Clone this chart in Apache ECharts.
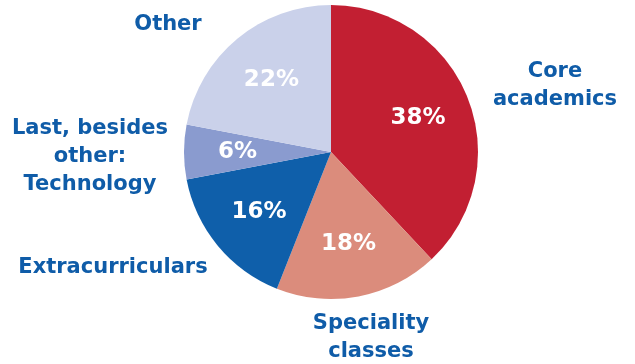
<!DOCTYPE html>
<html><head><meta charset="utf-8">
<script src="https://cdn.jsdelivr.net/npm/echarts@6/dist/echarts.min.js"></script>
<style>html,body{margin:0;padding:0;background:#fff}#c{width:635px;height:364px}</style>
</head><body><div id="c"></div>
<script>
const categories = ['Core\nacademics', 'Speciality\nclasses', 'Extracurriculars', 'Last, besides\nother:\nTechnology', 'Other'];
const values = [38, 18, 16, 6, 22];
const colors = ['#C21F32', '#DB8C7C', '#0F5FAA', '#8A9BCF', '#CAD1EA'];
// outer label anchor centres (px)
const labelPos = [[555, 86], [371, 338], [113, 268], [90, 157], [168, 25]];

const chart = echarts.init(document.getElementById('c'), null, {renderer: 'canvas'});
const data = categories.map((c, i) => ({name: c, value: values[i], itemStyle: {color: colors[i]}}));
const font = '"DejaVu Sans", sans-serif';
chart.setOption({
  animation: false,
  series: [
    {
      type: 'pie', center: [331, 152], radius: [0, 147], startAngle: 90, clockwise: true,
      data: data,
      itemStyle: {borderWidth: 0},
      label: {show: true, position: 'outside', formatter: '{b}', color: '#0F5CA8', fontFamily: font,
        fontWeight: 'bold', fontSize: 21, lineHeight: 28, align: 'center', overflow: 'none', width: 300},
      labelLine: {show: false},
      labelLayout: function (p) {
        const pos = labelPos[p.dataIndex];
        return {x: pos[0], y: pos[1], align: 'center', verticalAlign: 'middle'};
      },
      emphasis: {disabled: true}
    },
    {
      type: 'pie', center: [331, 152], radius: [34, 147], startAngle: 90, clockwise: true,
      data: data.map(d => ({name: d.name, value: d.value, itemStyle: {color: 'rgba(0,0,0,0)'}})),
      silent: true,
      label: {show: true, position: 'inside', formatter: '{c}%', color: '#fff', fontFamily: font,
        fontWeight: 'bold', fontSize: 23},
      labelLine: {show: false},
      emphasis: {disabled: true}
    }
  ]
});
</script></body></html>
